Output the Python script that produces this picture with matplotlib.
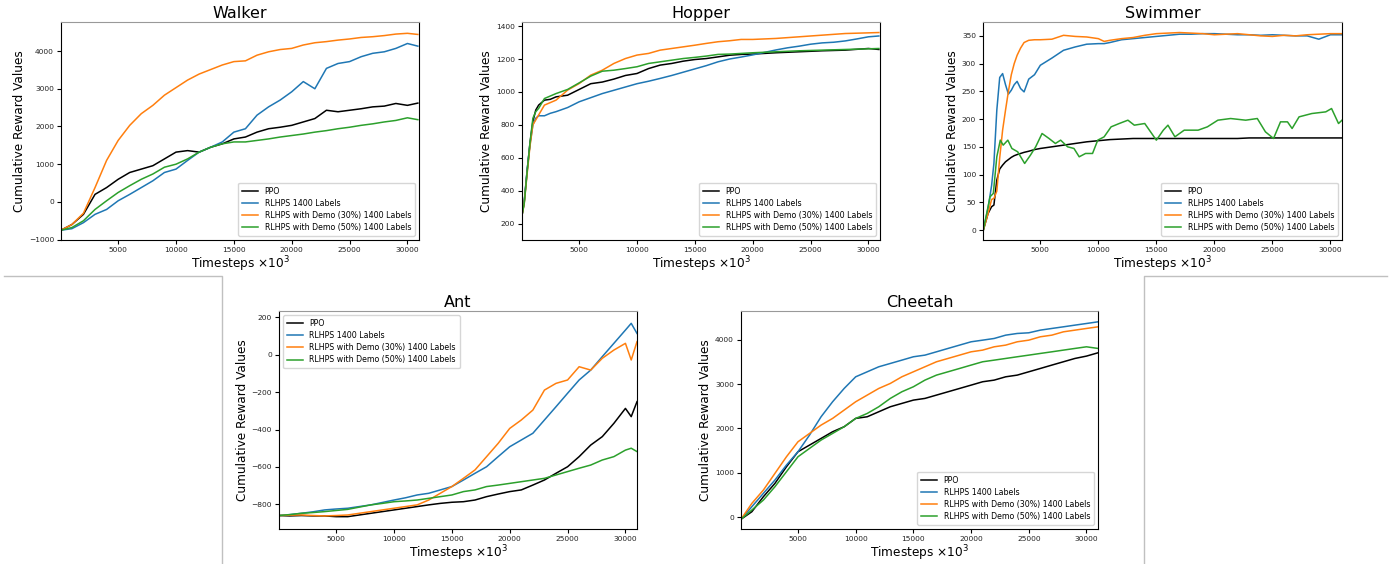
import numpy as np
import matplotlib
matplotlib.use("Agg")
import matplotlib.pyplot as plt
from matplotlib.lines import Line2D

labels = ["PPO", "RLHPS 1400 Labels", "RLHPS with Demo (30%) 1400 Labels",
          "RLHPS with Demo (50%) 1400 Labels"]
colors = ["black", "#1f77b4", "#ff7f0e", "#2ca02c"]

# ---- Walker ----
walker_x = [60] + list(range(1000, 31000, 1000)) + [30900]
walker_ppo = [-750, -600, -330, 200, 380, 600, 780, 870, 960, 1140, 1320, 1360, 1320, 1450, 1540, 1670,
              1720, 1850, 1940, 1980, 2030, 2120, 2210, 2430, 2390, 2430, 2470, 2520, 2540, 2610, 2560, 2620]
walker_rlhps = [-750, -710, -550, -330, -200, 30, 200, 380, 560, 780, 870, 1100, 1320, 1450, 1590, 1850,
                1940, 2300, 2520, 2700, 2920, 3190, 3000, 3540, 3670, 3720, 3850, 3940, 3980, 4070, 4200, 4130]
walker_demo30 = [-750, -600, -300, 380, 1100, 1630, 2030, 2340, 2560, 2830, 3030, 3230, 3390, 3510, 3630, 3720,
                 3740, 3890, 3980, 4040, 4070, 4160, 4220, 4250, 4290, 4320, 4360, 4380, 4410, 4450, 4470, 4440]
walker_demo50 = [-750, -680, -500, -200, 30, 250, 430, 600, 740, 920, 1000, 1140, 1320, 1450, 1540, 1590,
                 1590, 1630, 1670, 1720, 1760, 1800, 1850, 1890, 1940, 1980, 2030, 2070, 2120, 2160, 2230, 2180]

# ---- Hopper ----
hopper_x = [60, 250, 500, 750, 1000, 1250, 1500, 2000, 2500, 3000] + list(range(4000, 31000, 1000)) + [30900]
hopper_ppo = [250, 330, 520, 690, 820, 890, 920, 950, 955, 970, 980, 1015, 1050, 1060, 1078, 1100, 1112, 1142,
              1163, 1173, 1187, 1197, 1203, 1213, 1223, 1228, 1230, 1234, 1238, 1241, 1244, 1247, 1250, 1252,
              1254, 1259, 1264, 1258]
hopper_rlhps = [250, 330, 520, 680, 800, 840, 855, 855, 870, 880, 905, 940, 965, 990, 1010, 1030, 1050, 1065,
                1082, 1100, 1120, 1140, 1160, 1183, 1200, 1212, 1225, 1240, 1255, 1268, 1278, 1290, 1298, 1302,
                1310, 1322, 1335, 1340]
hopper_demo30 = [250, 320, 500, 670, 800, 830, 860, 920, 935, 950, 1011, 1051, 1102, 1132, 1173, 1203, 1224, 1234,
                 1254, 1264, 1274, 1284, 1295, 1305, 1311, 1319, 1319, 1322, 1325, 1330, 1335, 1340, 1345, 1350,
                 1355, 1357, 1359, 1361]
hopper_demo50 = [250, 320, 510, 690, 840, 880, 900, 960, 975, 990, 1015, 1055, 1096, 1126, 1132, 1142, 1153, 1173,
                 1183, 1193, 1203, 1210, 1218, 1228, 1230, 1234, 1238, 1241, 1244, 1247, 1250, 1252, 1254, 1256,
                 1258, 1260, 1262, 1264]

# ---- Swimmer ----
swimmer_x = [90, 500, 800, 1000, 1250, 1500, 1750, 2000, 2250, 2500, 2750, 3000, 3300, 3600, 4000, 4500, 5000,
             6000, 7000, 8000, 9000, 10000, 10500, 11000, 12000, 13000, 14000, 15000, 16000, 17000, 18000, 19000,
             20000, 21000, 22000, 23000, 24000, 25000, 26000, 27000, 28000, 29000, 30000, 31000]
swimmer_ppo = [0, 30, 42, 45, 90, 110, 117, 123, 127, 131, 134, 136, 138, 140, 142, 145, 147, 150, 153, 156, 159,
               161, 162, 163, 164, 165, 165, 165, 165, 165, 165, 165, 165, 165, 165, 166, 166, 166, 166, 166, 166,
               166, 166, 166]
swimmer_rlhps = [0, 40, 80, 120, 216, 275, 282, 262, 245, 252, 262, 268, 255, 249, 272, 280, 297, 310, 324, 330,
                 335, 336, 336, 338, 343, 345, 347, 349, 351, 353, 353, 354, 354, 353, 352, 352, 351, 352, 351, 350,
                 350, 344, 352, 352]
swimmer_demo30 = [0, 30, 55, 57, 70, 130, 180, 216, 250, 280, 300, 315, 328, 338, 342, 343, 343, 344, 351, 349,
                  348, 345, 340, 342, 345, 347, 351, 354, 355, 356, 355, 354, 352, 353, 354, 352, 350, 349, 351, 350,
                  352, 353, 354, 354]
swimmer_demo50_x = [90, 670, 950, 1250, 1550, 1800, 2200, 2550, 3050, 3650, 4150, 4600, 5150, 5750, 6300, 6750,
                    7350, 7900, 8350, 8900, 9500, 9950, 10500, 11100, 11800, 12550, 13100, 14000, 14700, 15000,
                    15600, 16000, 16600, 17400, 18600, 19400, 20300, 21400, 22700, 23700, 24400, 25100, 25700,
                    26300, 26700, 27300, 28400, 29600, 30100, 30700, 31000]
swimmer_demo50 = [0, 60, 66, 132, 162, 153, 162, 147, 141, 120, 135, 150, 174, 165, 156, 162, 150, 147, 132, 138,
                  138, 162, 168, 186, 192, 198, 189, 192, 171, 162, 180, 189, 168, 180, 180, 186, 198, 201, 198, 201,
                  177, 165, 195, 195, 183, 204, 210, 213, 219, 192, 198]

# ---- Ant ----
ant_x = [60] + list(range(1000, 31000, 1000)) + [30500, 31000]
ant_ppo = [-860, -862, -860, -862, -862, -866, -866, -857, -848, -839, -830, -821, -812, -803, -795, -789, -786,
           -777, -759, -745, -732, -723, -697, -670, -634, -599, -545, -483, -438, -367, -287, -331, -251]
ant_rlhps = [-860, -855, -848, -840, -830, -825, -821, -812, -803, -790, -777, -765, -750, -741, -723, -705, -670,
             -634, -599, -545, -492, -456, -420, -349, -278, -206, -135, -82, -10, 61, 132, 168, 114]
ant_demo30 = [-860, -858, -857, -860, -862, -860, -857, -848, -839, -830, -821, -812, -803, -777, -741, -705, -661,
              -616, -545, -474, -394, -349, -296, -189, -153, -135, -64, -82, -19, 25, 61, -28, 70]
ant_demo50 = [-860, -855, -848, -844, -839, -833, -827, -815, -803, -795, -786, -782, -777, -768, -759, -750, -732,
              -723, -705, -697, -688, -679, -670, -661, -643, -625, -607, -590, -563, -545, -510, -500, -518]

# ---- Cheetah ----
cheetah_x = [60] + list(range(1000, 32000, 1000))
cheetah_ppo = [-50, 120, 459, 759, 1135, 1474, 1624, 1774, 1925, 2038, 2226, 2263, 2376, 2489, 2564, 2639, 2677,
               2752, 2827, 2902, 2977, 3053, 3090, 3165, 3203, 3278, 3353, 3429, 3504, 3579, 3632, 3707]
cheetah_rlhps = [-50, 233, 534, 835, 1173, 1474, 1850, 2263, 2602, 2902, 3165, 3278, 3391, 3466, 3541, 3617, 3654,
                 3729, 3805, 3880, 3955, 3992, 4030, 4105, 4143, 4158, 4218, 4256, 4293, 4331, 4368, 4406]
cheetah_demo30 = [-50, 308, 609, 985, 1361, 1699, 1887, 2075, 2226, 2414, 2602, 2752, 2902, 3015, 3165, 3278, 3391,
                  3504, 3579, 3654, 3729, 3767, 3842, 3880, 3955, 3992, 4068, 4105, 4180, 4218, 4256, 4293]
cheetah_demo50 = [-50, 158, 383, 684, 1023, 1361, 1549, 1737, 1887, 2038, 2226, 2338, 2489, 2677, 2827, 2940, 3090,
                  3203, 3278, 3353, 3429, 3504, 3541, 3579, 3617, 3654, 3692, 3729, 3767, 3805, 3842, 3805]

panels = [
    ("Walker", [61, 22, 419, 240], (-1010, 4770), "lower right",
     [(walker_x, walker_ppo), (walker_x, walker_rlhps), (walker_x, walker_demo30), (walker_x, walker_demo50)]),
    ("Hopper", [522, 22, 880, 240], (100, 1425), "lower right",
     [(hopper_x, hopper_ppo), (hopper_x, hopper_rlhps), (hopper_x, hopper_demo30), (hopper_x, hopper_demo50)]),
    ("Swimmer", [983, 22, 1342, 240], (-18, 375), "lower right",
     [(swimmer_x, swimmer_ppo), (swimmer_x, swimmer_rlhps), (swimmer_x, swimmer_demo30),
      (swimmer_demo50_x, swimmer_demo50)]),
    ("Ant", [279, 311, 637, 529], (-932, 234), "upper left",
     [(ant_x, ant_ppo), (ant_x, ant_rlhps), (ant_x, ant_demo30), (ant_x, ant_demo50)]),
    ("Cheetah", [741, 311, 1098, 529], (-270, 4650), "lower right",
     [(cheetah_x, cheetah_ppo), (cheetah_x, cheetah_rlhps), (cheetah_x, cheetah_demo30),
      (cheetah_x, cheetah_demo50)]),
]

W, H = 1400, 564
fig = plt.figure(figsize=(W / 100, H / 100), dpi=100)

for title, (x0, y0, x1, y1), ylim, loc, series in panels:
    ax = fig.add_axes([x0 / W, 1 - y1 / H, (x1 - x0) / W, (y1 - y0) / H])
    for (xs, ys), lab, c in zip(series, labels, colors):
        ax.plot(xs, ys, color=c, lw=1.1, label=lab)
    ax.set_xlim(60, 31000)
    ax.set_ylim(*ylim)
    ax.set_xticks([5000, 10000, 15000, 20000, 25000, 30000])
    ax.tick_params(labelsize=5.4, length=3, width=0.8, pad=2, labelcolor="#222222")
    ax.set_title(title, fontsize=11.5, pad=3)
    ax.set_ylabel("Cumulative Reward Values", fontsize=8.7, labelpad=2)
    ax.set_xlabel(r"Timesteps $\times10^3$", fontsize=8.7, labelpad=1)
    for s in ax.spines.values():
        s.set_linewidth(0.8)
    ax.spines["top"].set_color("#999999")
    ax.spines["top"].set_linestyle((0, (1, 1)))
    ax.legend(loc=loc, fontsize=5.7, handlelength=2.0, borderpad=0.5, labelspacing=0.4)

# thin grey separators around the lower row
sep = dict(color="#c0c0c0", lw=1, transform=fig.transFigure)
fig.lines.append(Line2D([4 / W, 222 / W, 222 / W], [1 - 276 / H, 1 - 276 / H, 0], **sep))
fig.lines.append(Line2D([1387 / W, 1144 / W, 1144 / W], [1 - 276 / H, 1 - 276 / H, 0], **sep))

fig.savefig("out.png", dpi=100)
